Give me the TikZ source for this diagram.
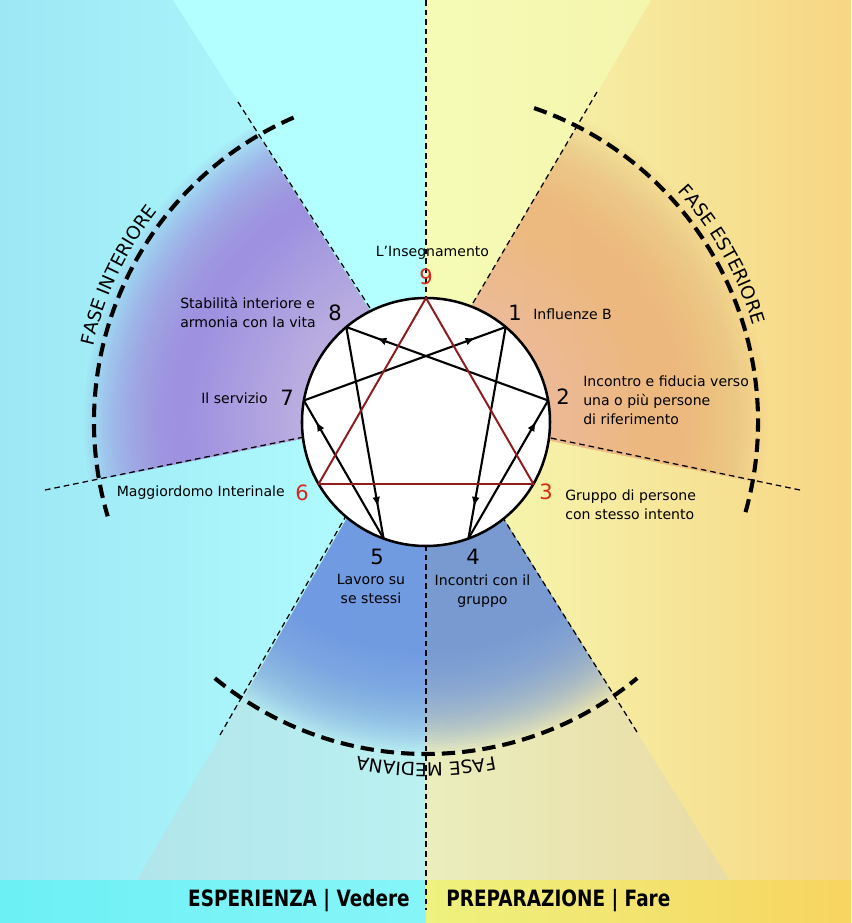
\documentclass[tikz,border=0pt]{standalone}
\usepackage{fontspec}
\setmainfont{DejaVu Sans}
\newfontfamily\barfont[FakeStretch=0.82]{DejaVu Sans}
\usetikzlibrary{arrows.meta,decorations.markings,decorations.text}

\definecolor{cyanleft}{HTML}{9CE7F4}
\definecolor{cyanmid}{HTML}{B3FFFF}
\definecolor{yellowmid}{HTML}{F5FBB5}
\definecolor{yellowright}{HTML}{F7D684}
\definecolor{barcyanleft}{HTML}{6CF0F4}
\definecolor{barcyanmid}{HTML}{86F5F8}
\definecolor{baryellowmid}{HTML}{EEF27E}
\definecolor{baryellowright}{HTML}{F8D460}
\definecolor{glowpurple}{HTML}{9E86E0}
\definecolor{gloworange}{HTML}{ECB87E}
\definecolor{glowblue}{HTML}{6E96E1}
\definecolor{triangred}{HTML}{8E1C1C}
\definecolor{numred}{HTML}{D42A1E}

\newcommand{\fasefont}{\fontsize{13}{15}\selectfont}
\newcommand{\numfont}{\fontsize{15}{18}\selectfont}

\tikzset{
  sectorline/.style={black, line width=0.9pt, dash pattern=on 4pt off 2.8pt},
  phasearc/.style={black, line width=2.9pt, dash pattern=on 9.5pt off 5pt},
  flowline/.style={black, line width=1.5pt, postaction={decorate},
    decoration={markings, mark=at position 0.85 with {\arrow{Latex[length=7pt,width=5.5pt]}}}},
  numlabel/.style={font=\numfont, inner sep=0pt},
  txtlabel/.style={font=\fontsize{10}{13.5}\selectfont, inner sep=0pt},
  barlabel/.style={font=\barfont\bfseries\fontsize{16}{18}\selectfont, inner sep=0pt},
}

\begin{document}
\begin{tikzpicture}[x=0.025cm, y=0.025cm]
        \useasboundingbox (-426,-501) rectangle (425,422);

        % Background halves
        \shade[left color=cyanleft, right color=cyanmid] (-426,-501) rectangle (0,422);
        \shade[left color=yellowmid, right color=yellowright] (0,-501) rectangle (425,422);

        % Light wedge at the top
        \fill[cyanmid] (-4,34) -- (-253,422) -- (0,422) -- (0,34) -- cycle;
        \shade[left color=yellowmid, right color=yellowmid!85!yellowright] (0,34) -- (0,422) -- (225,422) -- cycle;

        % Grey wedge at the bottom
        \fill[black!18, opacity=0.3] (-4,34) -- (-314,-501) -- (330,-501) -- cycle;

        % Purple glow (points 7 and 8)
        \begin{scope}
            \clip (8,10) -- (-600,-113) -- (-600,600) -- (-367,600) -- cycle;
            \foreach \r in {252,255,...,342} {
                \fill[glowpurple, opacity=0.058] (0,0) circle (\r);
            }
            \foreach \r in {128,132,...,236} {
                \fill[white, opacity=0.014] (0,0) circle (\r);
            }
        \end{scope}

        % Orange glow (points 1 and 2)
        \begin{scope}
            \clip (-17,10) -- (600,-115) -- (600,600) -- (330,600) -- cycle;
            \foreach \r in {252,255,...,342} {
                \fill[gloworange, opacity=0.058] (0,0) circle (\r);
            }
            \foreach \r in {128,132,...,220} {
                \fill[white, opacity=0.01] (0,0) circle (\r);
            }
        \end{scope}

        % Blue glow (points 4 and 5)
        \begin{scope}
            \clip (-4,34) -- (-386,-630) -- (411,-630) -- cycle;
            \foreach \r in {232,235,...,331} {
                \fill[glowblue, opacity=0.058] (0,0) circle (\r);
            }
        \end{scope}

        % Bottom bar
        \shade[left color=barcyanleft, right color=barcyanmid] (-426,-501) rectangle (0,-458);
        \shade[left color=baryellowmid, right color=baryellowright] (0,-501) rectangle (425,-458);

        % Sector lines (dashed)
        \draw[sectorline] (0,422) -- (0,-488);
        \draw[sectorline] (-188,320) -- (17,0);
        \draw[sectorline] (171,330) -- (-23,0);
        \draw[sectorline] (-381,-68) -- (0,10);
        \draw[sectorline] (374,-68) -- (0,10);
        \draw[sectorline] (-206,-313) -- (-26,0);
        \draw[sectorline] (211,-310) -- (17,0);

        % Phase arcs
        \draw[phasearc] (113.5:332) arc[start angle=113.5, end angle=196.5, radius=332];
        \draw[phasearc] (71:332) arc[start angle=71, end angle=-16.5, radius=332];
        \draw[phasearc] (230.5:332) arc[start angle=230.5, end angle=309.5, radius=332];

        % Phase names along the arcs
        \path[decorate, decoration={text along path, text={|\fasefont|FASE INTERIORE}, text align=center}]
            (196:341) arc[start angle=196, end angle=113, radius=341];
        \path[decorate, decoration={text along path, text={|\fasefont|FASE ESTERIORE}, text align=center}]
            (70:341) arc[start angle=70, end angle=-11, radius=341];
        \path[decorate, decoration={text along path, text={|\fasefont|FASE MEDIANA}, text align=center}]
            (310:341) arc[start angle=310, end angle=230, radius=341];

        % Enneagram circle and points
        \draw[black, line width=1.8pt, fill=white] (0,0) circle (124);
        \foreach \k in {1,...,9} {
            \coordinate (p\k) at ({90-40*\k}:124);
        }

        % Inner figure 1-4-2-8-5-7
        \foreach \a/\b in {1/4,4/2,2/8,8/5,5/7,7/1} {
            \draw[flowline] (p\a) -- (p\b);
        }

        % Triangle 9-3-6
        \draw[triangred, line width=1.4pt] (p9) -- (p3) -- (p6) -- cycle;

        % Numbers and labels
        \node[txtlabel] (teach) at (6.5,169) {L’Insegnamento};
        \node[numlabel, text=numred] (n9) at (0,145) {9};
        \node[numlabel] (n8) at (-91,109) {8};
        \node[txtlabel, anchor=west, align=left] (t8) at (-246,109.5) {Stabilità interiore e\\armonia con la vita};
        \node[numlabel] (n1) at (89,109) {1};
        \node[txtlabel, anchor=west] (t1) at (107,108) {Influenze B};
        \node[numlabel] (n2) at (137,25) {2};
        \node[txtlabel, anchor=west, align=left] (t2) at (157,22) {Incontro e fiducia verso\\una o più persone\\di riferimento};
        \node[numlabel] (n7) at (-139,24) {7};
        \node[txtlabel, anchor=east] (t7) at (-158,24) {Il servizio};
        \node[numlabel, text=numred] (n6) at (-124,-71) {6};
        \node[txtlabel, anchor=east] (t6) at (-141,-71) {Maggiordomo Interinale};
        \node[numlabel, text=numred] (n3) at (120,-70) {3};
        \node[txtlabel, anchor=west, align=left] (t3) at (139,-82.5) {Gruppo di persone\\con stesso intento};
        \node[numlabel] (n5) at (-49,-135) {5};
        \node[txtlabel, align=center] (t5) at (-55,-167) {Lavoro su\\se stessi};
        \node[numlabel] (n4) at (47,-135) {4};
        \node[txtlabel, align=center] (t4) at (56.5,-169) {Incontri con il\\gruppo};

        % Bar captions
        \node[barlabel, anchor=east] (seeing) at (-16,-479) {ESPERIENZA | Vedere};
        \node[barlabel, anchor=west] (doing) at (20,-479) {PREPARAZIONE | Fare};

\end{tikzpicture}
\end{document}
